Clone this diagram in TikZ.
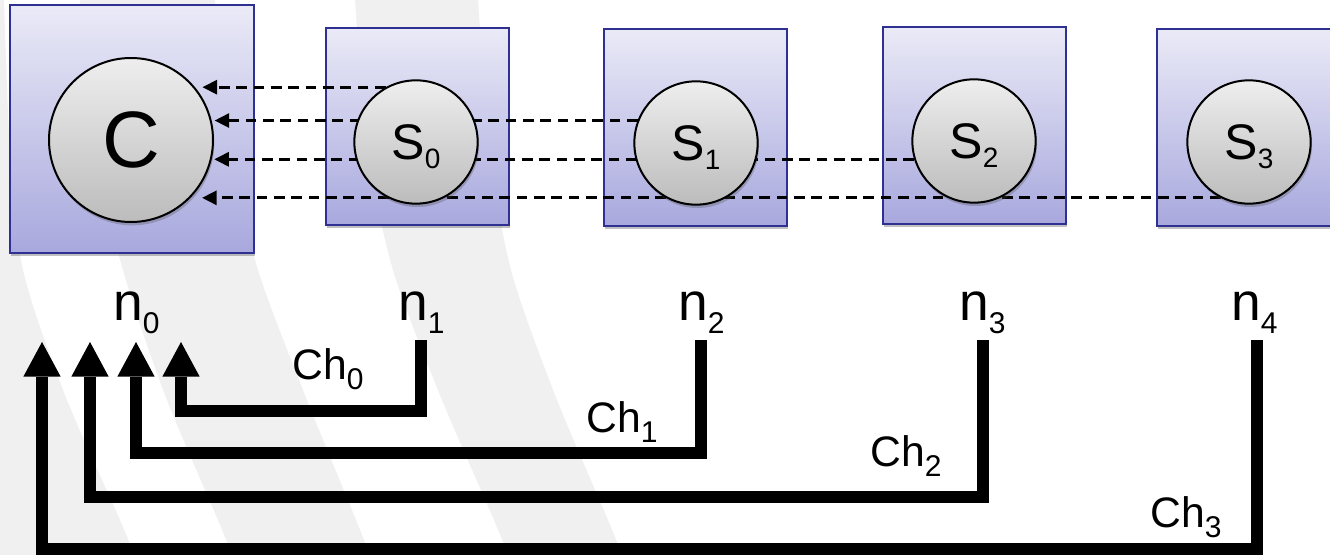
\documentclass[tikz,border=0pt]{standalone}
\usepackage{fontspec}
\setmainfont{Liberation Sans}
\usetikzlibrary{arrows.meta,shadows,calc}
\definecolor{bandgray}{RGB}{240,240,240}
\definecolor{boxtop}{RGB}{234,234,247}
\definecolor{boxbot}{RGB}{168,168,222}
\definecolor{boxedge}{RGB}{46,49,146}
\definecolor{ctop}{RGB}{238,238,238}
\definecolor{cbot}{RGB}{188,188,188}
\pgfdeclarelayer{back}
\pgfdeclarelayer{boxes}
\pgfdeclarelayer{lines}
\pgfsetlayers{back,boxes,lines,main}
\newcommand{\nlab}[1]{{\fontsize{40pt}{40pt}\selectfont n}\raisebox{-9.75pt}{\fontsize{22.5pt}{22.5pt}\selectfont #1}}
\newcommand{\slab}[1]{{\fontsize{37.5pt}{37.5pt}\selectfont S}\raisebox{-6.75pt}{\fontsize{21pt}{21pt}\selectfont #1}}
\newcommand{\chlab}[1]{{\fontsize{32pt}{32pt}\selectfont Ch}\raisebox{-7.5pt}{\fontsize{22.5pt}{22.5pt}\selectfont #1}}
\begin{document}
\begin{tikzpicture}[x=0.75pt,y=-0.75pt,
  boxn/.style={draw=boxedge, line width=1.5pt, top color=boxtop, bottom color=boxbot,
    inner sep=0pt, drop shadow={shadow xshift=1pt, shadow yshift=-2.5pt, opacity=0.35, fill=black!70}},
  boxc/.style={boxn, minimum width=183pt, minimum height=186pt},
  boxs/.style={boxn, minimum width=137.25pt, minimum height=147.75pt},
  cnode/.style={circle, draw=black, line width=1.5pt, top color=ctop, bottom color=cbot,
    inner sep=0pt, text depth=0pt,
    drop shadow={shadow xshift=1pt, shadow yshift=-2.5pt, opacity=0.3, fill=black!70}},
  bigc/.style={cnode, minimum size=123pt, font=\fontsize{60pt}{60pt}\selectfont},
  smallc/.style={cnode, minimum size=92.5pt},
  msg/.style={line width=2.25pt, dash pattern=on 8pt off 5pt,
    -{Triangle[length=11pt,width=10.5pt]}},
  chan/.style={line width=8.6pt, -{Triangle[length=26pt,width=28pt,line width=0pt]}},
  lab/.style={anchor=base west, inner sep=0pt}
]
\useasboundingbox (0,0) rectangle (1330,555);

% background bands
\begin{pgfonlayer}{back}
\fill[white] (0,0) rectangle (1330,555);
\fill[bandgray] (0,0) -- plot[smooth] coordinates {(4,0) (10,150) (23,270) (65,395) (120,520) (134,555)} -- (0,555) -- cycle;
\fill[bandgray] plot[smooth] coordinates {(80,0) (95,150) (123,270) (165,395) (218,520) (232,555)}
  -- plot[smooth] coordinates {(370,555) (356,520) (305,395) (258,270) (230,150) (215,0)} -- cycle;
\fill[bandgray] plot[smooth] coordinates {(355,0) (368,150) (393,270) (440,395) (494,520) (508,555)}
  -- plot[smooth] coordinates {(622,555) (608,520) (555,395) (511,270) (490,150) (478,0)} -- cycle;
\end{pgfonlayer}

% boxes
\begin{pgfonlayer}{boxes}
\begin{scope}
\clip (0,0) rectangle (1330,555);
\node[boxc] (bC) at (132,129) {};
\node[boxs] (b0) at (417.5,126.5) {};
\node[boxs] (b1) at (695.5,127.5) {};
\node[boxs] (b2) at (974,125.5) {};
\node[boxs] (b3) at (1248.5,127.5) {};
\end{scope}
\end{pgfonlayer}

% circles
\node[bigc] (C) at (131,140) {C};
\node[smallc] (S0) at (416,142) {\slab{0}};
\node[smallc] (S1) at (696,143) {\slab{1}};
\node[smallc] (S2) at (974,141) {\slab{2}};
\node[smallc] (S3) at (1249,142) {\slab{3}};

% dashed messages
\begin{pgfonlayer}{lines}
\draw[msg, shorten >=4.5pt] (S0.119.4) -- (C.38.8 |- S0.119.4);
\draw[msg, shorten >=2pt] (S1.159.4) -- (C.13.2 |- S1.159.4);
\draw[msg, shorten >=2pt] (S2.197.7) -- (C.-14 |- S2.197.7);
\draw[msg, shorten >=8.5pt] (S3.243.6) -- (C.-44.3 |- S3.243.6);
\end{pgfonlayer}

% node labels
\node[lab] (n0) at (113,321) {\nlab{0}};
\node[lab] (n1) at (398,321) {\nlab{1}};
\node[lab] (n2) at (678,321) {\nlab{2}};
\node[lab] (n3) at (959,321) {\nlab{3}};
\node[lab] (n4) at (1231,321) {\nlab{4}};

% channel labels
\node[lab] (ch0) at (292,380) {\chlab{0}};
\node[lab] (ch1) at (586,432) {\chlab{1}};
\node[lab] (ch2) at (870,466) {\chlab{2}};
\node[lab] (ch3) at (1150,527) {\chlab{3}};

% channel connectors
\coordinate (t1) at (421,340);
\coordinate (t2) at (701,340);
\coordinate (t3) at (983,340);
\coordinate (t4) at (1257,340);
\coordinate (h0a) at (181,342);
\coordinate (h0b) at (136,342);
\coordinate (h0c) at (90,342);
\coordinate (h0d) at (42,342);
\draw[chan] (t1) -- ++(0,71) -| (h0a);
\draw[chan] (t2) -- ++(0,113) -| (h0b);
\draw[chan] (t3) -- ++(0,157) -| (h0c);
\draw[chan] (t4) -- ++(0,209) -| (h0d);
\end{tikzpicture}
\end{document}
